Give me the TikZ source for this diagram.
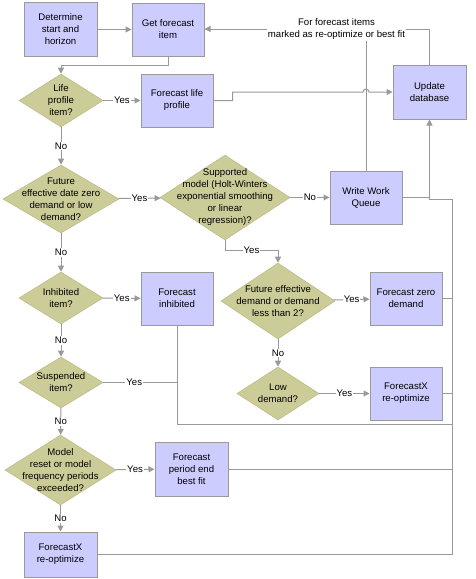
\documentclass[tikz,border=0pt]{standalone}
\usepackage{fontspec}
\setmainfont{Liberation Sans}
\usetikzlibrary{arrows.meta,shapes.geometric,calc}
\definecolor{boxfill}{HTML}{CCCCFF}
\definecolor{diafill}{HTML}{CCCC99}
\definecolor{diaedge}{HTML}{BDBD8A}
\definecolor{linec}{HTML}{999999}
\tikzset{
  txt/.style={font=\fontsize{9.6}{12}\selectfont},
  box/.style={txt, rectangle, draw=linec, fill=boxfill, line width=1pt,
    minimum width=72pt, minimum height=53pt, align=center, inner sep=0pt},
  dia/.style={diamond, fill=diafill, draw=diaedge, line width=0.6pt, inner sep=0pt},
  diatext/.style={txt, align=center, inner sep=0pt},
  conn/.style={draw=linec, line width=1pt},
  arr/.style={conn, -{Triangle[length=6pt,width=6pt]}},
  lab/.style={txt, fill=white, inner sep=1pt}
}
\begin{document}
\begin{tikzpicture}[x=1pt,y=-1pt]
\useasboundingbox (0,0) rectangle (475,579);
\fill[white] (0,0) rectangle (475,579);

% boxes
\node[box, minimum width=73pt, minimum height=54pt] (det) at (60.5,29.5) {Determine\\start and\\horizon};
\node[box] (get) at (168,29.5) {Get forecast\\item};
\node[box, minimum width=73pt, minimum height=54pt] (upd) at (429.5,92) {Update\\database};
\node[box] (flp) at (177,100.5) {Forecast life\\profile};
\node[box] (wwq) at (366,197.5) {Write Work\\Queue};
\node[box] (fzd) at (406,298.5) {Forecast zero\\demand};
\node[box] (fxr1) at (406,393.5) {ForecastX\\re-optimize};
\node[box] (finh) at (177,298.5) {Forecast\\inhibited};
\node[box, minimum width=73pt, minimum height=54pt] (fpe) at (191.5,469) {Forecast\\period end\\best fit};
\node[box, minimum width=73pt, minimum height=45pt] (fxr2) at (60.5,554.5) {ForecastX\\re-optimize};

% decisions
\node[dia, minimum width=84pt, minimum height=53pt] (life) at (61,100.5) {};
\node[diatext] (life-t) at (life) {Life\\profile\\item?};
\node[dia, minimum width=116pt, minimum height=68pt] (fut) at (61,199) {};
\node[diatext] (fut-t) at (fut) {Future\\effective date zero\\demand or low\\demand?};
\node[dia, minimum width=130pt, minimum height=85pt] (sup) at (225,197.5) {};
\node[diatext] (sup-t) at (sup) {Supported\\model (Holt-Winters\\exponential smoothing\\or linear\\regression)?};
\node[dia, minimum width=114pt, minimum height=76pt] (fed) at (278,301) {};
\node[diatext] (fed-t) at (fed) {Future effective\\demand or demand\\less than 2?};
\node[dia, minimum width=82pt, minimum height=53pt] (low) at (278,393.5) {};
\node[diatext] (low-t) at (low) {Low\\demand?};
\node[dia, minimum width=84pt, minimum height=52pt] (inh) at (61,298) {};
\node[diatext] (inh-t) at (inh) {Inhibited\\item?};
\node[dia, minimum width=84pt, minimum height=51pt] (susp) at (61,382.5) {};
\node[diatext] (susp-t) at (susp) {Suspended\\item?};
\node[dia, minimum width=111pt, minimum height=70pt] (mod) at (60.5,470) {};
\node[diatext] (mod-t) at (mod) {Model\\reset or model\\frequency periods\\exceeded?};

% loop-back label
\node[txt, align=center, inner sep=1pt] (lbl) at (336.5,29) {For forecast items\\marked as re-optimize or best fit};

% bus coordinates
\coordinate (bt) at (452,199.5);
\coordinate (hop) at (363,92);

% connectors
\draw[arr] (det) -- (get);
\draw[arr] (get.south) -- ++(0,9) -| (life.north);
\draw[arr] (life) -- node[lab]{Yes} (flp);
\draw[arr] (life) -- node[lab]{No} (fut);
\draw[arr] (fut) -- node[lab]{Yes} (sup);
\draw[arr] (sup) -- node[lab]{No} (wwq);
\draw[arr] (sup.south) -- ++(0,10) -| node[lab, pos=0.25]{Yes} (fed.north);
\draw[arr] (fed) -- node[lab]{Yes} (fzd);
\draw[arr] (fed) -- node[lab]{No} (low);
\draw[arr] (low) -- node[lab]{Yes} (fxr1);
\draw[arr] (fut) -- node[lab]{No} (inh);
\draw[arr] (inh) -- node[lab]{Yes} (finh);
\draw[arr] (inh) -- node[lab]{No} (susp);
\draw[conn] (susp.east) -- node[lab, pos=0.42]{Yes} (susp.east -| finh.south);
\draw[conn] (finh.south) |- (452,424);
\draw[arr] (susp) -- node[lab]{No} (mod);
\draw[arr] (mod) -- node[lab]{Yes} (fpe);
\draw[arr] (mod) -- node[lab]{No} (fxr2);

% right-hand bus to Update database
\draw[arr] (fxr2.east) -| (bt) -| (upd.south);
\draw[conn] (fpe.east) -- (fpe.east -| bt);
\draw[conn] (fxr1.east) -- (fxr1.east -| bt);
\draw[conn] (fzd.east) -- (fzd.east -| bt);
\draw[conn] (wwq.east) -- (wwq.east -| upd.south);

% Forecast life profile to Update database, hopping the loop line
\draw[arr] (flp.east) -- ++(19,0) |- (hop)
  arc[start angle=180, end angle=360, radius=3] -- (upd.west);

% loop back to Get forecast item
\draw[conn] (wwq.north) -- (wwq.north |- lbl.south);
\draw[conn] (upd.north) |- (lbl.east);
\draw[arr] (lbl.west) -- (lbl.west -| get.east);
\end{tikzpicture}
\end{document}
